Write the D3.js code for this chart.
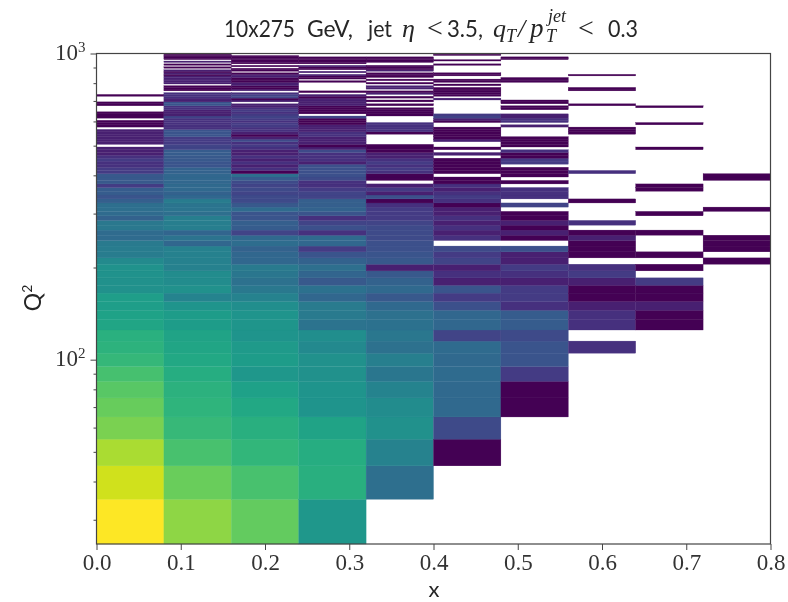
<!DOCTYPE html>
<html>
<head>
<meta charset="utf-8">
<script src="https://d3js.org/d3.v7.min.js"></script>
<style>
  body { margin: 0; background: #fff; }
  svg { display: block; filter: blur(0.5px); }
  .tick text { font-family: "Liberation Serif", serif; font-size: 23px; fill: #333; }
  .domain, .tick line { stroke: #444; }
</style>
</head>
<body>
<script>
// x bins and Q2 bins of the histogram
var xEdges = [0, 0.08, 0.16, 0.24, 0.32, 0.40, 0.48, 0.56, 0.64, 0.72, 0.80];
var qStart = 25;
var qStep = 10;

// counts per Q2 bin, lowest Q2 first, one array per x bin (0 = empty)
var col1 = [3000,1700,1100,600,470,370,280,210,170,160,
  110,100,85,85,55,55,60,60,45,28,
  28,26,16,16,25,25,12,16,18,18,
  11,8,10,10,4,9,9,9,4,4,
  3,3,4,3,2,2,2,0,2,2,
  2,2,2,2,0,1,1,1,0,1,
  1,1,0,0,0,1,1,0,0,0,
  1];
var col2 = [770,475,293,213,182,168,143,122,112,104,
  82,82,64,36,55,47,47,33,33,33,
  33,14,21,13,30,30,30,18,22,22,
  28,14,12,15,15,14,14,14,12,12,
  8,8,9,9,10,10,5,5,4,4,
  4,8,8,8,3,3,3,3,3,5,
  2,2,2,3,3,8,8,2,2,3,
  3,3,0,1,1,1,0,2,2,2,
  2,2,1,2,1,2,0,1,0,1,
  0,2,0,1,1,1,1];
var col3 = [437,295,197,154,122,96,70,82,75,64,
  66,64,50,34,25,19,23,26,14,14,
  12,17,15,5,10,11,8,8,16,9,
  6,6,5,6,5,6,10,18,1,3,
  2,3,2,3,2,2,3,4,3,6,
  2,1,2,3,3,4,4,3,4,5,
  4,3,4,3,2,2,0,2,1,5,
  5,3,0,2,1,1,2,2,1,1,
  1,2,2,1,0,1,1,0,1,0,
  1,1,1,1,1,1];
var col4 = [70,154,143,104,64,64,55,55,43,50,
  21,26,27,14,20,9,13,18,12,8,
  4,14,15,3,7,5,3,8,12,11,
  11,5,5,4,3,3,6,7,7,7,
  7,2,3,3,3,6,2,1,2,2,
  2,3,3,2,2,2,1,1,1,5,
  0,1,1,1,1,2,2,2,2,1,
  2,0,1,0,0,0,0,0,1,0,
  1,1,2,0,2,0,1,1,2,0,
  1,1,1,1,1];
var col5 = [0,18,34,55,47,36,23,31,19,24,
  20,19,15,9,15,12,9,2,9,8,
  7,7,6,6,6,5,4,4,4,3,
  1,7,2,4,2,0,1,1,3,4,
  3,4,3,2,2,1,1,1,0,0,
  0,0,1,3,3,3,3,0,0,0,
  1,1,1,1,0,1,0,1,0,1,
  0,2,1,0,2,2,0,1,0,1,
  0,1,1,1,0,2,1,1,1,0,
  0,1,1,1,1];
var col6 = [0,0,1,6,15,15,16,15,16,5,
  14,14,7,4,8,2,3,2,5,4,
  6,0,3,2,3,2,3,2,2,1,
  3,4,3,2,3,1,1,0,1,1,
  1,1,1,0,2,0,1,0,0,2,
  1,1,1,1,1,0,0,1,2,5,
  4,0,0,0,0,0,0,0,2,0,
  1,1,1,1,1,0,1,0,1,1,
  0,0,1,1,0,0,0,0,0,1,
  0,0,1,0,0,0,1];
var col7 = [0,0,0,0,1,1,4,8,8,6,
  10,10,3,4,4,2,3,4,2,2,
  7,0,1,2,1,2,1,1,0,5,
  0,3,3,3,0,1,0,1,1,1,
  0,4,4,1,1,3,0,1,1,1,
  1,0,0,0,0,2,0,3,3,2,
  2,0,0,1,1,0,1,1,0,0,
  0,0,0,0,0,0,0,0,1,1,
  1,0,0,0,0,0,0,0,0,0,
  0,0,0,1,1];
var col8 = [0,0,0,0,0,0,0,0,3,0,
  3,3,2,1,1,2,4,3,0,1,
  1,1,2,1,0,3,0,0,0,0,
  1,0,0,0,0,0,0,0,3,0,
  0,0,0,0,0,0,0,0,0,0,
  0,0,1,1,1,0,0,0,0,0,
  0,0,0,0,0,1,0,0,0,0,
  0,0,0,1,1,0,0,0,0,0,
  0,0,1];
var col9 = [0,0,0,0,0,0,0,0,0,0,
  1,1,2,1,1,4,0,1,0,1,
  0,0,0,1,0,0,0,1,0,0,
  0,0,0,1,1,0,0,0,0,0,
  0,0,0,0,0,0,1,0,0,0,
  0,0,0,0,0,0,1,0,0,0,
  0,0,0,0,1];
var col10 = [0,0,0,0,0,0,0,0,0,0,
  0,0,0,0,0,0,0,0,1,0,
  1,1,1,0,0,0,0,0,1,0,
  0,0,0,0,0,0,1,1];
var columns = [col1, col2, col3, col4, col5, col6, col7, col8, col9, col10];

var xTicks = [0, 0.1, 0.2, 0.3, 0.4, 0.5, 0.6, 0.7, 0.8];
var yMajor = [100, 1000];
var yMinor = [30, 40, 50, 60, 70, 80, 90, 200, 300, 400, 500, 600, 700, 800, 900];

var svg = d3.select("body").append("svg")
    .attr("width", 788)
    .attr("height", 602);

var x = d3.scaleLinear().domain([0, 0.8]).range([96.5, 770.5]);
var y = d3.scaleLog().domain([25, 1000]).range([544, 53.5]);
var color = d3.scaleSequentialLog(d3.interpolateViridis).domain([1, 3000]);

// flatten to one record per filled cell
var cells = [];
columns.forEach(function(col, i) {
  col.forEach(function(count, j) {
    if (count > 0) {
      cells.push({x0: xEdges[i], x1: xEdges[i + 1], q0: qStart + j * qStep, q1: qStart + (j + 1) * qStep, count: count});
    }
  });
});

svg.append("g").selectAll("rect")
    .data(cells)
    .enter()
    .append("rect")
    .attr("x", function(d) { return x(d.x0); })
    .attr("y", function(d) { return y(d.q1); })
    .attr("width", function(d) { return x(d.x1) - x(d.x0); })
    .attr("height", function(d) { return y(d.q0) - y(d.q1); })
    .style("fill", function(d) { return color(d.count); })
    .style("stroke", function(d) { return color(d.count); })
    .style("stroke-width", 0.3);

// frame
svg.append("rect")
    .attr("x", x.range()[0])
    .attr("y", y.range()[1])
    .attr("width", x.range()[1] - x.range()[0])
    .attr("height", y.range()[0] - y.range()[1])
    .style("fill", "none")
    .style("stroke", "#444")
    .style("stroke-width", 1.2);

var xAxis = svg.append("g")
    .attr("transform", "translate(0," + y.range()[0] + ")")
    .call(d3.axisBottom(x).tickValues(xTicks).tickFormat(d3.format(".1f")).tickSize(6).tickPadding(4));
xAxis.select(".domain").remove();

svg.append("g")
    .attr("transform", "translate(" + x.range()[0] + ",0)")
    .call(d3.axisLeft(y).tickValues(yMinor).tickFormat("").tickSize(3))
    .select(".domain").remove();

var yAxis = svg.append("g")
    .attr("transform", "translate(" + x.range()[0] + ",0)")
    .call(d3.axisLeft(y).tickValues(yMajor).tickFormat("").tickSize(6).tickPadding(5));
yAxis.select(".domain").remove();

// log labels with a real superscript
yAxis.selectAll(".tick text").each(function(d) {
  var t = d3.select(this).attr("dy", 5.5);
  t.append("tspan").text("10");
  t.append("tspan")
      .attr("dy", -7.5)
      .style("font-size", "15px")
      .text(Math.round(Math.log10(d)));
});

// title, each piece placed where the reference has it
var title = svg.append("text")
    .attr("y", 37)
    .style("font-family", "Lato, sans-serif")
    .style("font-size", "24px")
    .style("fill", "#262626");
function sans(s, px, w) {
  return title.append("tspan").attr("x", px).attr("y", 37)
      .attr("textLength", w).attr("lengthAdjust", "spacingAndGlyphs").text(s);
}
function math(s, px, py, size) {
  return title.append("tspan").attr("x", px).attr("y", py).text(s)
      .style("font-family", "'Liberation Serif', serif")
      .style("font-style", "italic")
      .style("font-size", size + "px");
}
sans("10x275", 224, 71);
sans("GeV,", 307, 46);
sans("jet", 368, 24);
math("\u03b7", 402, 37, 26);
math("<", 427, 37, 28).style("font-style", "normal");
sans("3.5,", 447, 36);
math("q", 493, 37, 26);
math("T", 506, 42, 18);
math("/", 518, 37, 26);
math("p", 530, 37, 27);
math("T", 546, 42, 18);
math("jet", 548, 22, 18);
math("<", 578, 37, 28).style("font-style", "normal");
sans("0.3", 608, 30);

svg.append("text")
    .attr("x", 434)
    .attr("y", 597)
    .attr("text-anchor", "middle")
    .style("font-family", "Lato, sans-serif")
    .style("font-size", "22px")
    .style("fill", "#262626")
    .text("x");

var yLabel = svg.append("text")
    .attr("transform", "translate(41,298) rotate(-90)")
    .attr("text-anchor", "middle")
    .style("font-family", "Lato, sans-serif")
    .style("font-size", "23px")
    .style("fill", "#262626");
yLabel.append("tspan").text("Q");
yLabel.append("tspan").attr("dy", -9).style("font-size", "14px").text("2");
</script>
</body>
</html>
